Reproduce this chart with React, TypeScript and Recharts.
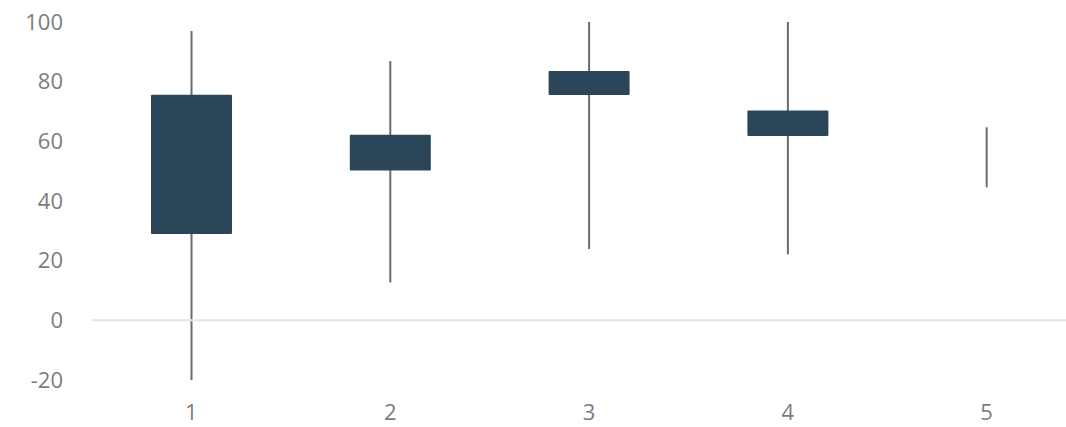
import { ComposedChart, Bar, XAxis, YAxis, ReferenceLine } from 'recharts';

const categories = ['1', '2', '3', '4', '5'];
const lows = [-20, 12.7, 23.9, 22.1, 44.6];
const highs = [97, 86.9, 100, 100, 64.7];
const opens: (number | null)[] = [28.9, 50.2, 75.5, 61.8, null];
const closes: (number | null)[] = [75.6, 62.2, 83.6, 70.3, null];
const yTicks = [-20, 0, 20, 40, 60, 80, 100];

const data = categories.map((name, i) => ({
  name,
  range: [lows[i], highs[i]],
  low: lows[i],
  high: highs[i],
  open: opens[i],
  close: closes[i],
}));

const Candle = (props: any) => {
  const { x, y, width, height, payload } = props;
  const { low, high, open, close } = payload;
  const cx = x + width / 2;
  const toPx = (v: number) => y + (height * (high - v)) / (high - low);
  let body = null;
  if (open != null && close != null) {
    const top = toPx(Math.max(open, close));
    const bottom = toPx(Math.min(open, close));
    body = <rect x={x} y={top} width={width} height={bottom - top} rx={1} fill="#2b4659" />;
  }
  return (
    <g>
      <line x1={cx} x2={cx} y1={y} y2={y + height} stroke="#6b6b6b" strokeWidth={2} />
      {body}
    </g>
  );
};

const tickStyle = { fill: '#7d7d7d', fontSize: 22, fontFamily: '"Open Sans", sans-serif', fontWeight: 400 };

export default function App() {
  return (
    <div style={{ position: 'absolute', left: 0, top: 0, width: 1066, height: 427, overflow: 'hidden', background: '#fff' }}>
      <ComposedChart width={1086} height={427} data={data} margin={{ top: 22, right: 0, bottom: 0, left: 0 }}>
        <XAxis dataKey="name" axisLine={false} tickLine={false} tick={tickStyle} height={47} tickMargin={18} />
        <YAxis
          domain={[-20, 100]}
          ticks={yTicks}
          axisLine={false}
          tickLine={false}
          tick={tickStyle}
          width={92}
          tickMargin={23}
        />
        <ReferenceLine y={0} stroke="#e4e4e4" strokeWidth={2} />
        <Bar dataKey="range" barSize={81} shape={Candle} isAnimationActive={false} />
      </ComposedChart>
    </div>
  );
}
